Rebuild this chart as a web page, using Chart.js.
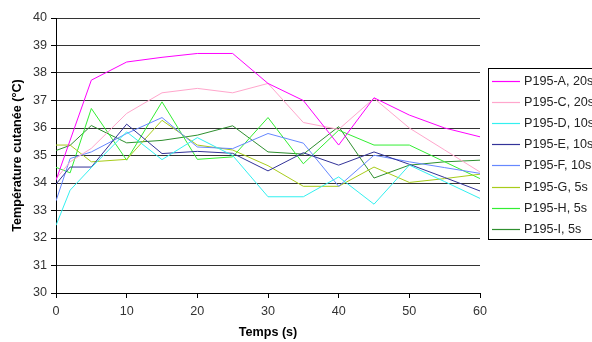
<!DOCTYPE html>
<html>
<head>
<meta charset="utf-8">
<script src="https://cdn.jsdelivr.net/npm/chart.js@4"></script>
<style>
  html, body { margin: 0; padding: 0; background: #fff; }
  canvas { display: block; }
</style>
</head>
<body>
<canvas id="myChart" width="592" height="342"></canvas>
<script>
// setup
const times = [0, 2, 5, 10, 15, 20, 25, 30, 35, 40, 45, 50, 55, 60];
const seriesNames = ['P195-A, 20s', 'P195-C, 20s', 'P195-D, 10s', 'P195-E, 10s',
                     'P195-F, 10s', 'P195-G, 5s', 'P195-H, 5s', 'P195-I, 5s'];

const p195A = [34.1, null, 37.74, 38.4, 38.57, 38.71, 38.71, 37.62, 37.0, 35.38, 37.1, 36.47, 36.0, 35.68];
const p195C = [34.15, 34.77, 35.26, 36.53, 37.28, 37.44, 37.28, 37.62, 36.2, 35.95, 37.08, 36.0, 35.2, 34.4];
const p195D = [32.46, 33.74, 34.56, 35.86, 34.85, 35.65, 35.0, 33.5, 33.5, 34.22, 33.23, 34.65, 34.05, 33.44];
const p195E = [33.96, 34.58, 34.58, 36.14, 35.07, 35.15, 35.08, 34.44, 35.1, 34.65, 35.13, 34.68, 34.2, 33.71];
const p195F = [33.35, 34.89, 35.13, 35.8, 36.38, 35.31, 35.25, 35.8, 35.45, 33.88, 35.01, 34.77, 34.56, 34.35];
const p195G = [35.38, 35.38, 34.77, 34.86, 36.28, 35.38, 35.2, 34.63, 33.88, 33.88, 34.58, 34.02, 34.16, 34.32];
const p195H = [34.57, 34.37, 36.71, 34.83, 36.95, 34.86, 34.95, 36.38, 34.7, 35.92, 35.38, 35.38, 34.77, 34.16];
const p195I = [35.18, 35.37, 36.09, 35.46, 35.55, 35.74, 36.08, 35.13, 35.05, 36.05, 34.18, 34.65, 34.77, 34.83];

const allSeries = [p195A, p195C, p195D, p195E, p195F, p195G, p195H, p195I];
const seriesColors = ['#ff00ff', '#ffa6cc', '#33f0f0', '#333399', '#6688ff', '#a8cc1a', '#33ee33', '#2f8f2f'];

const yTicks = [30, 31, 32, 33, 34, 35, 36, 37, 38, 39, 40];
const xTicks = [0, 10, 20, 30, 40, 50, 60];

const fontFamily = '"Liberation Sans", Arial, sans-serif';

const data = {
  datasets: allSeries.map((vals, i) => ({
    label: seriesNames[i],
    data: times.map((t, j) => ({ x: t, y: vals[j] })),
    borderColor: seriesColors[i],
    backgroundColor: seriesColors[i],
    borderWidth: 1,
    pointRadius: 0,
    tension: 0,
    spanGaps: true
  }))
};

// legend box on the right, cut by the canvas edge like the original
const boxLegend = {
  id: 'boxLegend',
  beforeDraw(chart) {
    const ctx = chart.ctx;
    ctx.save();
    ctx.fillStyle = '#fff';
    ctx.fillRect(0, 0, chart.width, chart.height);
    ctx.restore();
  },
  afterDraw(chart) {
    const ctx = chart.ctx;
    ctx.save();
    ctx.setLineDash([]);
    ctx.lineWidth = 1;
    ctx.strokeStyle = '#000';
    ctx.strokeRect(488.5, 68.5, 130, 171);
    ctx.font = '12.6px ' + fontFamily;
    ctx.textBaseline = 'middle';
    ctx.textAlign = 'left';
    seriesNames.forEach((name, i) => {
      const y = Math.round(80.5 + i * 21.2) + 0.5;
      ctx.beginPath();
      ctx.strokeStyle = seriesColors[i];
      ctx.lineWidth = 1.2;
      ctx.moveTo(492, y);
      ctx.lineTo(520, y);
      ctx.stroke();
      ctx.fillStyle = '#222';
      ctx.fillText(name, 524, y + 0.5);
    });
    ctx.restore();
  }
};

// config
const config = {
  type: 'line',
  data,
  plugins: [boxLegend],
  options: {
    responsive: false,
    animation: false,
    devicePixelRatio: 1,
    layout: { padding: { top: 18, right: 112, left: 0, bottom: 0 } },
    plugins: {
      legend: { display: false },
      tooltip: { enabled: false }
    },
    scales: {
      x: {
        type: 'linear',
        min: 0,
        max: 60,
        afterBuildTicks: (scale) => { scale.ticks = xTicks.map(v => ({ value: v })); },
        afterFit: (scale) => { scale.height = 49; },
        grid: { drawOnChartArea: false, drawTicks: true, tickLength: 5, tickColor: '#000' },
        border: { display: true, color: '#000' },
        ticks: { color: '#333', padding: 6, font: { family: fontFamily, size: 12.6 }, maxRotation: 0 },
        title: {
          display: true,
          text: 'Temps (s)',
          color: '#000',
          padding: { top: 2, bottom: 2 },
          font: { family: fontFamily, size: 12.6, weight: 'bold' }
        }
      },
      y: {
        min: 30,
        max: 40,
        afterBuildTicks: (scale) => { scale.ticks = yTicks.map(v => ({ value: v })); },
        afterFit: (scale) => { scale.width = 56; },
        grid: { color: '#333', lineWidth: 1, drawTicks: true, tickLength: 5, tickColor: '#000' },
        border: { display: true, color: '#000' },
        ticks: { color: '#333', padding: 4, font: { family: fontFamily, size: 12.6 } },
        title: {
          display: true,
          text: 'Température cutanée (°C)',
          color: '#000',
          padding: { top: 10, bottom: 2 },
          font: { family: fontFamily, size: 12.6, weight: 'bold' }
        }
      }
    }
  }
};

// render init block
const myChart = new Chart(document.getElementById('myChart'), config);
</script>
</body>
</html>
